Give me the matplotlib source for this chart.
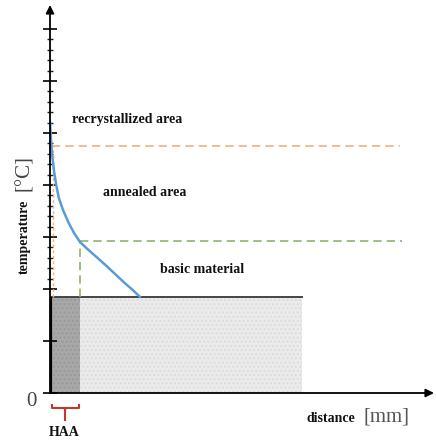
import numpy as np
import matplotlib
matplotlib.use("Agg")
import matplotlib.pyplot as plt
from matplotlib.ticker import FixedLocator

plt.rcParams['font.family'] = ['Liberation Serif', 'DejaVu Serif']

# data (arbitrary units, 1 unit = one major tick on the temperature axis)
curve_x = [0.00, 0.02, 0.04, 0.08, 0.12, 0.17, 0.25, 0.35, 0.46, 0.58,
           0.73, 0.90, 1.08, 1.25, 1.42, 1.58, 1.73]
curve_y = [5.21, 4.87, 4.58, 4.25, 4.00, 3.75, 3.52, 3.29, 3.08, 2.90,
           2.76, 2.61, 2.45, 2.29, 2.13, 1.99, 1.85]
base_level = 1.85        # basic material temperature
annealed_level = 2.92    # green dashed level
recryst_level = 4.75     # orange dashed level
haa_width = 0.58         # heat affected area
base_end = 4.85
line_end = [6.73, 6.77]  # orange, green dashed line ends
major_ticks = [0, 1, 2, 3, 4, 5, 6, 7]
minor_ticks = [v for v in np.arange(2.0, 7.01, 0.2) if abs(v - round(v)) > 0.01]

W, H = 436, 441
fig = plt.figure(figsize=(W / 100, H / 100), dpi=100)
x0, y0, x1, y1 = 50, 393, 434, 5
ax = fig.add_axes([x0 / W, 1 - y0 / H, (x1 - x0) / W, (y0 - y1) / H])
ax.set_xlim(0, (x1 - x0) / 52)
ax.set_ylim(0, (y0 - y1) / 52)
for s in ax.spines.values():
    s.set_visible(False)

# axes with arrows
ax.annotate('', xy=(1, 0), xytext=(0, 0), xycoords='axes fraction',
            arrowprops=dict(arrowstyle='-|>', color='black', lw=1.3,
                            mutation_scale=12, shrinkA=0, shrinkB=0))
ax.annotate('', xy=(0, 1), xytext=(0, 0), xycoords='axes fraction',
            arrowprops=dict(arrowstyle='-|>', color='black', lw=1.3,
                            mutation_scale=12, shrinkA=0, shrinkB=0))

ax.set_xticks([])
ax.yaxis.set_major_locator(FixedLocator(major_ticks))
ax.yaxis.set_minor_locator(FixedLocator(minor_ticks))
ax.tick_params(axis='y', which='major', direction='inout', length=9.5, width=1.2,
               labelleft=False, color='black')
ax.tick_params(axis='y', which='minor', direction='inout', length=4.5, width=1.0,
               color='#222222')

# regions
ax.fill_between([0, haa_width], 0, base_level, color='#a8a8a8', hatch='....',
                edgecolor='#999999', lw=0)
ax.fill_between([haa_width, base_end], 0, base_level, color='#ebebeb', hatch='....',
                edgecolor='#dcdcdc', lw=0)
ax.plot([0, base_end], [base_level, base_level], color='#444444', lw=1.4)
ax.plot([0, 0], [0, base_level], color='black', lw=3, solid_capstyle='butt')

# dashed levels
ax.plot([0.04, line_end[0]], [recryst_level, recryst_level], color='#f2b27e',
        lw=1.2, dashes=(5, 3))
ax.plot([0.05, 0.05], [base_level, recryst_level], color='#f2b27e', lw=1.0,
        dashes=(2, 2))
ax.plot([haa_width, line_end[1]], [annealed_level, annealed_level], color='#8db36a',
        lw=1.2, dashes=(5, 3))
ax.plot([haa_width, haa_width], [base_level, annealed_level], color='#8db36a',
        lw=1.2, dashes=(5, 3))

# temperature curve
ax.plot(curve_x, curve_y, color='#5b9bd5', lw=1.8, solid_joinstyle='round')

bold = dict(fontsize=10, fontweight='bold', color='#111111')
ax.text(0.42, 5.25, 'recrystallized area', va='center', ha='left', **bold)
ax.text(1.02, 3.85, 'annealed area', va='center', ha='left', **bold)
ax.text(2.12, 2.38, 'basic material', va='center', ha='left', **bold)

# HAA bracket
bx = [0.03, 0.03, haa_width - 0.02, haa_width - 0.02]
by = [-0.24, -0.29, -0.29, -0.24]
ax.plot(bx, by, color='#c0392b', lw=1.5, clip_on=False)
ax.plot([haa_width / 2, haa_width / 2], [-0.29, -0.52], color='#c0392b', lw=1.5,
        clip_on=False)

# outer labels
def ftext(px, py, s, **kw):
    fig.text(px / W, 1 - py / H, s, ha='center', va='center', **kw)

ftext(24, 237, 'temperature', rotation=90, **bold)
ftext(24, 173, '[°C]', rotation=90, fontsize=15, color='#444444')
ftext(31, 401, '0', fontsize=15, color='#444444')
ftext(331, 418, 'distance', **bold)
ftext(386, 417, '[mm]', fontsize=15, color='#555555')
ftext(64, 433, 'HAA', **bold)

fig.savefig('out.png', dpi=100)
